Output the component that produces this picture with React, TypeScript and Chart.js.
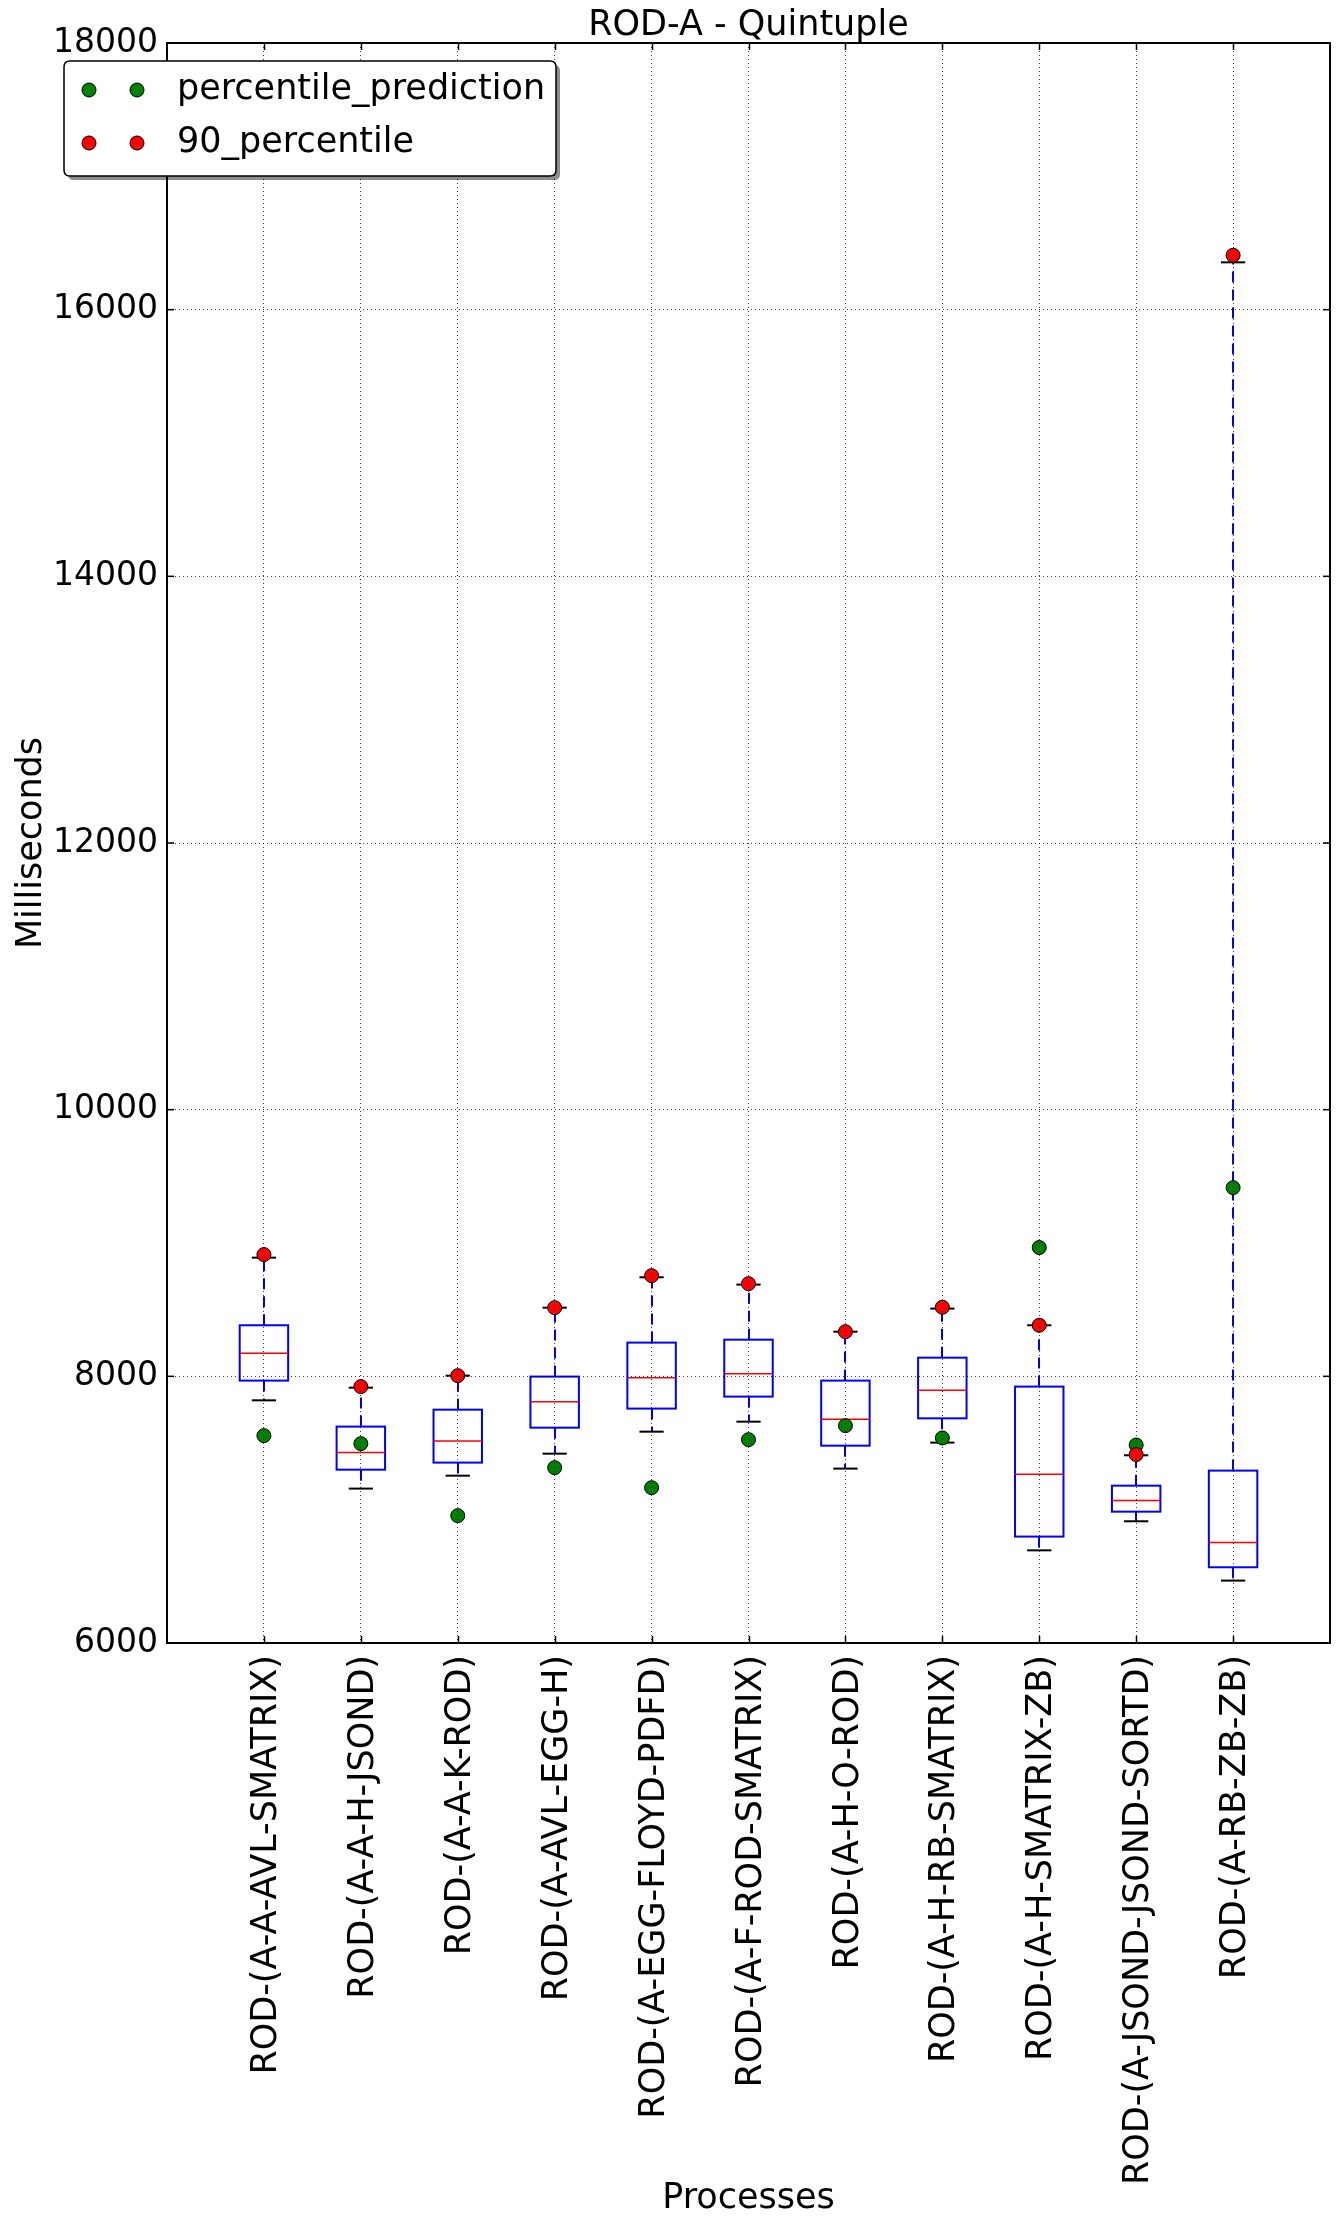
import React, { useEffect, useRef } from 'react';
import { Chart, registerables } from 'chart.js';

Chart.register(...registerables);

const FONT = "'DejaVu Sans', 'Liberation Sans', sans-serif";

// ---- data ----
const categories = [
  'ROD-(A-A-AVL-SMATRIX)',
  'ROD-(A-A-H-JSOND)',
  'ROD-(A-A-K-ROD)',
  'ROD-(A-AVL-EGG-H)',
  'ROD-(A-EGG-FLOYD-PDFD)',
  'ROD-(A-F-ROD-SMATRIX)',
  'ROD-(A-H-O-ROD)',
  'ROD-(A-H-RB-SMATRIX)',
  'ROD-(A-H-SMATRIX-ZB)',
  'ROD-(A-JSOND-JSOND-SORTD)',
  'ROD-(A-RB-ZB-ZB)',
];
const whiskerLow = [7820, 7158, 7255, 7420, 7585, 7660, 7308, 7503, 6695, 6913, 6468];
const q1 = [7968, 7300, 7353, 7615, 7758, 7848, 7480, 7685, 6798, 6985, 6568];
const median = [8173, 7428, 7515, 7810, 7990, 8020, 7678, 7895, 7265, 7068, 6753];
const q3 = [8383, 7623, 7750, 7998, 8253, 8275, 7968, 8140, 7923, 7180, 7293];
const whiskerHigh = [8890, 7915, 8005, 8515, 8743, 8688, 8335, 8508, 8383, 7408, 16355];
const percentilePrediction = [7555, 7495, 6955, 7315, 7165, 7525, 7630, 7538, 8966, 7485, 9415];
const percentile90 = [8913, 7923, 8005, 8515, 8755, 8695, 8335, 8518, 8383, 7413, 16408];
const yTickValues = [6000, 8000, 10000, 12000, 14000, 16000, 18000];
const positions = categories.map((_, i) => i + 1);

// ---- styles ----
const BOX_WIDTH = 0.5;
const CAP_WIDTH = 0.25;
const GRID_COLOR = 'rgba(0,0,0,0.75)';
const MARKER_R = 7;

const boxPlugin = {
  id: 'boxes',
  beforeDatasetsDraw(chart: any) {
    const { ctx } = chart;
    const x = chart.scales.x;
    const y = chart.scales.y;
    const line = (x1: number, y1: number, x2: number, y2: number) => {
      ctx.beginPath();
      ctx.moveTo(x1, y1);
      ctx.lineTo(x2, y2);
      ctx.stroke();
    };
    ctx.save();
    for (let i = 0; i < positions.length; i++) {
      const p = positions[i];
      const cx = Math.round(x.getPixelForValue(p));
      const bl = x.getPixelForValue(p - BOX_WIDTH / 2);
      const br = x.getPixelForValue(p + BOX_WIDTH / 2);
      const cl = x.getPixelForValue(p - CAP_WIDTH / 2);
      const cr = x.getPixelForValue(p + CAP_WIDTH / 2);
      const yq1 = y.getPixelForValue(q1[i]);
      const yq3 = y.getPixelForValue(q3[i]);
      const ymed = y.getPixelForValue(median[i]);
      const ylo = y.getPixelForValue(whiskerLow[i]);
      const yhi = y.getPixelForValue(whiskerHigh[i]);
      // whiskers
      ctx.strokeStyle = '#0000ff';
      ctx.lineWidth = 2;
      ctx.setLineDash([11, 7]);
      line(cx, yq3, cx, yhi);
      line(cx, yq1, cx, ylo);
      ctx.setLineDash([]);
      // caps
      ctx.strokeStyle = '#000000';
      ctx.lineWidth = 2;
      line(cl, yhi, cr, yhi);
      line(cl, ylo, cr, ylo);
      // box
      ctx.strokeStyle = '#0000ff';
      ctx.lineWidth = 2;
      ctx.strokeRect(bl, yq3, br - bl, yq1 - yq3);
      // median
      ctx.strokeStyle = '#ff0000';
      ctx.lineWidth = 1.5;
      line(bl, ymed, br, ymed);
    }
    ctx.restore();
  },
};

const framePlugin = {
  id: 'frameAndLegend',
  afterDraw(chart: any) {
    const { ctx, chartArea } = chart;
    const x = chart.scales.x;
    const y = chart.scales.y;
    const { left, right, top, bottom } = chartArea;
    const TL = 7;
    ctx.save();
    ctx.strokeStyle = '#000';
    ctx.lineWidth = 1.5;
    ctx.setLineDash([]);
    const line = (x1: number, y1: number, x2: number, y2: number) => {
      ctx.beginPath();
      ctx.moveTo(x1, y1);
      ctx.lineTo(x2, y2);
      ctx.stroke();
    };
    // inward ticks
    y.ticks.forEach((t: any) => {
      const py = y.getPixelForValue(t.value);
      line(left, py, left + TL, py);
      line(right, py, right - TL, py);
    });
    x.ticks.forEach((t: any) => {
      const px = Math.round(x.getPixelForValue(t.value)) + 0.5;
      line(px, bottom, px, bottom - TL);
      line(px, top, px, top + TL);
    });
    // frame
    ctx.lineWidth = 2;
    ctx.strokeRect(left, top, right - left, bottom - top);

    // legend
    const lx = 64, ly = 61, lw = 492, lh = 115, r = 6;
    const rr = (x0: number, y0: number) => {
      ctx.beginPath();
      ctx.moveTo(x0 + r, y0);
      ctx.lineTo(x0 + lw - r, y0);
      ctx.quadraticCurveTo(x0 + lw, y0, x0 + lw, y0 + r);
      ctx.lineTo(x0 + lw, y0 + lh - r);
      ctx.quadraticCurveTo(x0 + lw, y0 + lh, x0 + lw - r, y0 + lh);
      ctx.lineTo(x0 + r, y0 + lh);
      ctx.quadraticCurveTo(x0, y0 + lh, x0, y0 + lh - r);
      ctx.lineTo(x0, y0 + r);
      ctx.quadraticCurveTo(x0, y0, x0 + r, y0);
      ctx.closePath();
    };
    rr(lx + 4, ly + 4);
    ctx.fillStyle = 'rgba(0,0,0,0.45)';
    ctx.fill();
    rr(lx, ly);
    ctx.fillStyle = '#ffffff';
    ctx.fill();
    ctx.lineWidth = 1.5;
    ctx.strokeStyle = '#000';
    ctx.stroke();
    const rows = [90, 143];
    chart.data.datasets.forEach((ds: any, i: number) => {
      const ry = rows[i];
      [89, 137].forEach((mx) => {
        ctx.beginPath();
        ctx.arc(mx, ry, MARKER_R, 0, Math.PI * 2);
        ctx.fillStyle = ds.pointBackgroundColor;
        ctx.fill();
        ctx.lineWidth = 1;
        ctx.strokeStyle = '#000';
        ctx.stroke();
      });
      ctx.fillStyle = '#000';
      ctx.font = `35px ${FONT}`;
      ctx.textAlign = 'left';
      ctx.textBaseline = 'middle';
      ctx.fillText(ds.label, 177, ry);
    });
    ctx.restore();
  },
};

export default function App() {
  const ref = useRef<HTMLCanvasElement | null>(null);
  useEffect(() => {
    const canvas = ref.current;
    if (!canvas) return;
    const chart = new Chart(canvas, {
      type: 'scatter',
      data: {
        datasets: [
          {
            label: 'percentile_prediction',
            data: percentilePrediction.map((v, i) => ({ x: positions[i], y: v })),
            pointBackgroundColor: '#008000',
            backgroundColor: '#008000',
            pointBorderColor: '#000000',
            pointBorderWidth: 1,
            pointRadius: MARKER_R,
            pointHoverRadius: MARKER_R,
            order: 2,
          },
          {
            label: '90_percentile',
            data: percentile90.map((v, i) => ({ x: positions[i], y: v })),
            pointBackgroundColor: '#ff0000',
            backgroundColor: '#ff0000',
            pointBorderColor: '#000000',
            pointBorderWidth: 1,
            pointRadius: MARKER_R,
            pointHoverRadius: MARKER_R,
            order: 1,
          },
        ],
      },
      options: {
        responsive: false,
        animation: false,
        devicePixelRatio: 1,
        events: [],
        layout: { padding: { left: 0, right: 9, top: 0, bottom: 0 } },
        plugins: {
          legend: { display: false },
          tooltip: { enabled: false },
          title: {
            display: true,
            fullSize: false,
            text: 'ROD-A - Quintuple',
            color: '#000',
            font: { family: FONT, size: 35, weight: 'normal', lineHeight: 1 },
            padding: { top: 8, bottom: 0 },
          },
        },
        scales: {
          x: {
            type: 'linear',
            min: 0,
            max: 12,
            afterBuildTicks: (s: any) => {
              s.ticks = positions.map((v) => ({ value: v }));
            },
            afterFit: (s: any) => {
              s.height = 582;
            },
            ticks: {
              autoSkip: false,
              minRotation: 90,
              maxRotation: 90,
              padding: 12,
              labelOffset: 3,
              color: '#000',
              font: { family: FONT, size: 35 },
              callback: (v: any) => categories[Math.round(Number(v)) - 1] ?? '',
            },
            grid: { color: GRID_COLOR, lineWidth: 1, drawTicks: false, z: 1 },
            border: { display: false, dash: [1, 3] },
            title: {
              display: true,
              text: 'Processes',
              color: '#000',
              font: { family: FONT, size: 35 },
              padding: { top: 0, bottom: 5.5 },
            },
          },
          y: {
            type: 'linear',
            min: 6000,
            max: 18000,
            afterBuildTicks: (s: any) => {
              s.ticks = yTickValues.map((v) => ({ value: v }));
            },
            afterFit: (s: any) => {
              s.width = 167;
            },
            ticks: {
              padding: 9,
              color: '#000',
              font: { family: FONT, size: 33 },
              callback: (v: any) => String(v),
            },
            grid: { color: GRID_COLOR, lineWidth: 1, drawTicks: false, z: 1 },
            border: { display: false, dash: [1, 3] },
            title: {
              display: true,
              text: 'Milliseconds',
              color: '#000',
              font: { family: FONT, size: 35 },
              padding: { top: 10.5, bottom: 0 },
            },
          },
        },
      },
      plugins: [boxPlugin, framePlugin],
    } as any);
    return () => chart.destroy();
  }, []);
  return (
    <div style={{ position: 'absolute', left: 0, top: 0, width: 1339, height: 2225, background: '#fff' }}>
      <canvas ref={ref} width={1339} height={2225} style={{ display: 'block' }} />
    </div>
  );
}
